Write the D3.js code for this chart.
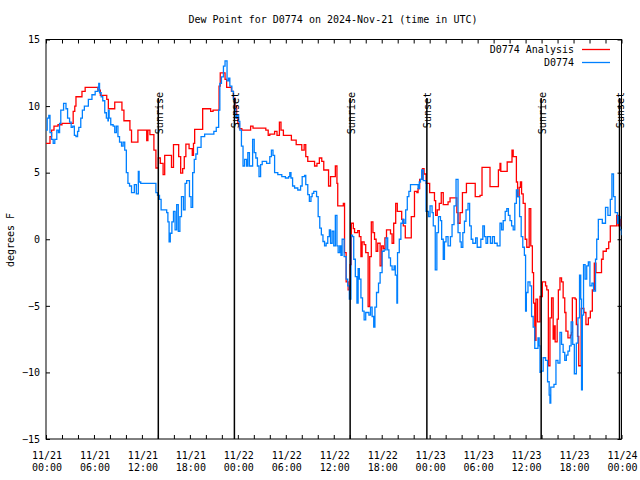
<!DOCTYPE html>
<html>
<head>
<meta charset="utf-8">
<script src="https://cdn.jsdelivr.net/npm/d3@7"></script>
<style>
  html, body { margin: 0; padding: 0; background: #fff; }
  svg text { font-family: "DejaVu Sans Mono", "Liberation Mono", monospace; font-size: 10px; fill: #000; }
</style>
</head>
<body>
<svg id="chart" width="640" height="480"></svg>
<script>
// ---- data (hours after 2024-11-21 00:00 UTC, value in degrees F) ----
const titleText = "Dew Point for D0774 on 2024-Nov-21 (time in UTC)";
const seriesNames = ["D0774 Analysis", "D0774"];
const seriesColors = ["#ff0000", "#0080ff"];
const yTicks = [-15, -10, -5, 0, 5, 10, 15];

const redHours = [0.0,0.5,0.7,1.0,1.5,2.0,3.4,3.6,3.75,4.5,4.9,6.5,6.8,7.6,7.8,8.6,9.5,9.75,10.5,10.7,11.5,12.6,12.75,13.0,13.5,13.75,14.05,14.3,14.65,14.85,15.7,15.95,16.6,16.85,17.1,17.3,17.5,17.9,18.3,18.45,18.6,19.6,20.6,20.9,21.65,21.8,22.4,22.6,23.2,23.45,23.65,23.85,24.0,24.2,24.5,25.6,25.9,27.5,27.8,28.0,28.6,28.9,29.2,29.4,29.7,30.7,31.3,32.0,32.3,32.5,32.75,33.6,33.9,34.2,34.5,34.75,35.35,35.6,36.2,36.4,36.5,37.2,37.35,37.55,37.8,38.05,38.2,38.45,38.6,39.0,39.2,39.4,39.55,39.8,40.0,40.3,40.5,40.7,40.9,41.1,41.3,41.5,41.8,42.0,42.2,42.4,42.6,43.1,43.3,43.5,43.75,43.95,44.5,44.7,44.95,45.7,46.1,46.4,46.55,46.75,47.1,47.3,47.55,48.0,48.6,48.75,48.95,49.2,49.45,49.7,50.3,50.55,51.4,51.55,51.8,52.1,52.6,53.7,54.3,54.55,55.55,56.6,56.8,56.9,57.7,58.3,58.45,58.85,59.0,59.2,59.35,59.5,59.7,59.95,60.15,60.45,60.65,60.85,61.0,61.15,61.3,61.5,61.8,62.1,62.5,62.65,62.85,63.05,63.25,63.45,63.55,63.7,63.95,64.1,64.3,64.5,64.7,64.9,65.05,65.3,65.6,65.75,65.85,66.2,66.35,66.5,66.65,66.95,67.3,67.55,67.85,68.1,68.35,68.6,68.8,69.5,69.7,70.1,70.4,70.6,71.4,71.6,71.9,72.0];
const redValues = [7.2,7.7,8.2,8.5,8.6,8.7,9.6,10.0,10.7,11.1,11.4,11.2,10.8,10.5,9.8,10.3,9.7,8.9,8.2,7.3,8.2,7.4,8.2,7.85,6.7,5.35,6.1,5.7,4.85,6.3,5.4,7.1,6.2,4.97,5.3,6.2,7.15,6.8,6.3,7.2,8.25,9.8,9.6,9.7,11.5,12.5,12.0,11.4,11.1,10.6,10.0,9.1,8.7,8.3,8.2,8.5,8.35,8.2,7.8,7.9,8.1,7.8,8.8,8.2,7.8,7.45,7.1,6.7,7.1,6.2,5.85,5.5,5.7,6.1,5.85,5.2,4.0,4.7,5.5,4.2,2.5,2.7,-1.0,-3.2,-3.8,-1.9,1.2,0.8,0.5,0.65,0.2,-1.3,-0.2,-0.4,-1.0,-5.05,-1.3,1.3,0.5,0.0,-0.9,-0.3,-2.0,-0.5,-0.7,0.1,0.7,0.4,-0.3,1.2,2.7,2.1,1.5,1.0,0.1,1.7,3.6,3.5,3.8,4.5,5.3,4.9,4.2,3.5,2.9,1.8,2.2,2.7,3.5,2.6,2.8,3.1,2.0,1.2,2.0,3.5,4.2,3.2,3.3,5.4,3.95,5.2,5.7,5.1,5.8,6.7,6.2,4.3,3.2,3.9,4.3,3.4,2.7,0.0,-0.6,2.3,-0.5,-2.5,-4.8,-7.6,-4.5,-6.2,-4.3,-3.2,-3.5,-3.8,-9.5,-5.9,-4.4,-7.5,-6.5,-7.7,-6.0,-3.8,-2.9,-3.2,-4.4,-5.5,-6.9,-7.4,-7.2,-7.0,-4.4,-4.5,-6.4,-7.3,-9.5,-5.2,-5.5,-6.4,-5.9,-5.4,-3.8,-1.8,-2.5,-1.5,-0.9,-0.7,-0.2,1.0,1.8,1.0,1.5,1.5];

const blueHours = [0.0,0.15,0.35,0.5,0.7,0.9,1.1,1.35,1.55,1.7,1.85,2.2,2.5,2.7,2.95,3.15,3.35,3.55,3.75,3.95,4.1,4.35,4.55,4.8,5.3,5.75,6.15,6.5,6.6,6.7,6.9,7.1,7.35,7.55,7.75,7.8,7.9,8.1,8.4,8.6,8.8,9.0,9.2,9.45,9.65,9.85,10.05,10.25,10.45,10.7,11.05,11.3,11.55,11.65,11.85,13.75,13.95,14.2,14.4,15.1,15.25,15.4,15.55,15.75,15.95,16.15,16.35,16.55,16.75,16.95,17.2,17.4,17.6,17.95,18.15,18.35,18.55,18.75,18.95,19.4,19.85,21.0,21.3,21.6,21.75,21.95,22.2,22.4,22.65,22.85,23.0,23.25,23.45,23.6,23.75,23.9,24.1,24.25,24.45,24.65,24.85,25.1,25.25,25.45,25.85,26.05,26.25,26.45,26.65,26.85,27.05,27.6,28.0,28.2,28.4,28.6,29.0,29.5,29.95,30.35,30.5,30.65,30.85,31.1,31.5,31.85,32.05,32.35,32.5,32.75,32.95,33.15,33.3,33.5,33.85,34.05,34.25,34.45,34.65,34.85,35.05,35.25,35.45,35.6,35.8,36.0,36.2,36.4,36.55,36.75,36.9,37.05,37.3,37.55,37.75,37.95,38.15,38.35,38.5,38.7,38.9,39.05,39.2,39.4,39.6,39.8,40.0,40.4,40.6,40.8,41.0,41.15,41.35,41.6,41.8,42.05,42.3,42.55,42.75,42.9,43.1,43.3,43.55,43.7,43.9,43.98,44.2,44.4,44.6,44.8,45.0,45.2,45.4,45.6,46.55,46.7,46.85,47.0,47.2,47.55,47.85,48.05,48.3,48.45,48.7,48.9,49.1,49.35,49.5,49.7,49.85,50.05,50.3,50.6,50.8,51.05,51.3,51.55,51.8,51.95,52.15,52.35,52.55,52.8,53.0,53.2,53.4,53.75,53.95,54.4,54.65,54.85,55.05,55.25,55.6,55.85,56.1,56.45,56.8,57.0,57.2,57.45,57.65,57.85,58.05,58.25,58.45,58.65,58.85,59.05,59.25,59.45,59.65,59.85,60.0,60.1,60.3,60.55,60.75,60.95,61.15,61.55,61.7,61.8,61.95,62.2,62.5,62.75,62.95,63.05,63.15,63.55,63.8,64.05,64.3,64.5,64.7,64.9,65.1,65.3,65.5,65.7,65.9,66.1,66.35,66.55,66.75,66.9,67.0,67.1,67.25,67.45,67.65,67.85,68.05,68.3,68.5,68.75,68.9,69.1,69.6,70.0,70.3,70.6,70.8,71.0,71.2,71.5,71.6,71.8,72.0];
const blueValues = [8.2,9.1,9.3,8.0,7.5,7.2,7.5,8.2,8.0,8.7,9.7,10.2,9.8,9.1,8.8,8.4,8.5,7.8,7.7,8.1,8.4,9.1,9.7,10.0,10.5,10.85,11.1,11.4,11.7,11.0,10.7,10.4,9.5,9.1,8.9,9.7,9.1,8.6,8.5,8.0,8.5,7.7,7.3,7.0,7.3,6.7,5.0,4.2,4.0,3.5,4.1,3.4,5.1,4.3,4.2,3.5,3.3,3.0,2.2,2.0,1.3,-0.2,0.45,1.3,2.1,0.7,2.6,0.6,1.7,3.2,2.2,4.2,4.4,3.2,2.4,5.0,6.0,6.4,6.9,7.7,7.9,8.1,8.4,9.7,11.7,12.2,13.0,13.4,11.9,12.1,11.5,11.1,10.5,9.8,9.1,9.3,8.85,8.2,7.0,5.5,6.0,5.5,6.5,5.5,7.5,6.5,6.1,5.5,4.7,5.6,5.85,5.7,6.2,6.7,6.3,5.0,4.85,4.7,4.6,4.7,5.0,4.6,4.0,3.85,3.7,4.0,4.7,4.8,4.1,3.35,2.85,3.2,3.45,3.6,3.2,1.7,0.84,0.33,-0.17,-0.5,-0.3,0.2,0.7,-0.3,0.6,-0.5,1.8,-0.5,-1.0,-0.5,-1.2,0.0,-1.3,-3.0,-3.5,-4.5,0.3,0.2,-1.5,-2.8,-4.8,-2.2,-3.0,-4.4,-5.4,-6.05,-5.5,-5.7,-5.1,-5.8,-6.6,-5.1,-4.0,-3.3,-2.5,-0.9,-0.8,0.1,-0.8,-1.4,-2.0,-2.3,-2.0,-2.7,-4.8,-1.0,0.0,1.2,1.5,1.2,2.2,3.2,3.6,4.1,3.8,4.3,4.5,5.2,4.4,2.1,1.7,2.5,2.0,1.0,-2.3,0.5,1.7,1.4,0.0,-1.5,-0.2,0.2,-0.5,0.2,1.1,2.5,4.5,0.5,-0.2,-0.6,0.5,1.35,2.2,2.7,1.0,0.0,-0.3,0.1,-0.6,0.0,1.0,0.2,-0.3,0.2,-0.3,0.2,-0.3,-0.5,1.2,0.7,1.4,2.1,2.3,1.8,1.4,1.0,0.7,2.7,3.7,3.2,1.7,0.2,-0.6,-1.2,-5.4,-4.0,-3.2,-3.5,-5.8,-6.6,-8.2,-7.4,-8.0,-10.0,-9.9,-8.9,-9.1,-10.7,-11.7,-12.3,-11.1,-10.9,-9.1,-9.3,-7.0,-7.9,-8.5,-9.1,-8.7,-8.4,-8.0,-6.2,-7.9,-10.1,-7.8,-5.9,-2.7,-4.5,-11.3,-5.7,-1.9,-3.0,-2.0,-1.7,-3.5,-3.3,-3.9,-1.5,0.0,1.5,1.2,2.4,1.8,3.0,4.9,3.2,2.0,1.2,1.7,0.7,0.3];

const eventHours = [14.05, 23.57, 38.05, 47.65, 61.95, 71.75];
const eventLabels = ["Sunrise", "Sunset", "Sunrise", "Sunset", "Sunrise", "Sunset"];

// ---- drawing ----
const startMs = Date.UTC(2024, 10, 21, 0, 0);
const toDate = h => new Date(startMs + h * 3600e3);

const svg = d3.select("#chart");
const pL = 46, pR = 621.5, pT = 39.5, pB = 439;

const x = d3.scaleUtc().domain([toDate(0), toDate(72)]).range([pL, pR]);
const y = d3.scaleLinear().domain([-15, 15]).range([pB, pT]);

svg.append("defs").append("clipPath").attr("id", "clip")
  .append("rect").attr("x", pL).attr("y", pT).attr("width", pR - pL).attr("height", pB - pT);

// title
svg.append("text").attr("x", 333).attr("y", 23).attr("text-anchor", "middle").text(titleText);

// y label
svg.append("text").attr("transform", "translate(14,240) rotate(-90)").attr("text-anchor", "middle").text("degrees F");

// axes ticks
const hourTicks = d3.utcHour.every(2).range(toDate(0), toDate(72.01));
const bottomAxis = d3.axisBottom(x).tickValues(hourTicks).tickSize(-4).tickFormat("");
const topAxis = d3.axisTop(x).tickValues(hourTicks).tickSize(-4).tickFormat("");
const leftAxis = d3.axisLeft(y).tickValues(yTicks).tickSize(-4).tickFormat(d3.format("d"));
const rightAxis = d3.axisRight(y).tickValues(yTicks).tickSize(-4).tickFormat("");

function styleAxis(g) {
  g.select(".domain").remove();
  g.selectAll("line").attr("stroke", "#000");
  g.selectAll("text").style("font-family", "DejaVu Sans Mono").style("font-size", "10px").attr("fill", "#000");
}
svg.append("g").attr("transform", `translate(0,${pB})`).call(bottomAxis).call(styleAxis);
svg.append("g").attr("transform", `translate(0,${pT})`).call(topAxis).call(styleAxis);
const gl = svg.append("g").attr("transform", `translate(${pL},0)`).call(leftAxis).call(styleAxis);
gl.selectAll("text").attr("x", -6);
svg.append("g").attr("transform", `translate(${pR},0)`).call(rightAxis).call(styleAxis);

// x labels (every 6 h, two lines)
const labelTicks = d3.utcHour.every(6).range(toDate(0), toDate(72.01));
const fmtDate = d3.utcFormat("%m/%d"), fmtTime = d3.utcFormat("%H:%M");
const xl = svg.append("g");
labelTicks.forEach(t => {
  const tx = x(t) + 1;
  xl.append("text").attr("x", tx).attr("y", 459).attr("text-anchor", "middle").text(fmtDate(t));
  xl.append("text").attr("x", tx).attr("y", 471).attr("text-anchor", "middle").text(fmtTime(t));
});

// border
svg.append("rect").attr("x", pL).attr("y", pT).attr("width", pR - pL).attr("height", pB - pT)
  .attr("fill", "none").attr("stroke", "#000").attr("stroke-width", 1);

// series
const line = d3.line().curve(d3.curveStepAfter).x(d => x(d[0])).y(d => y(d[1]));
const redData = redHours.map((h, i) => [toDate(h), redValues[i]]);
const blueData = blueHours.map((h, i) => [toDate(h), blueValues[i]]);
const plot = svg.append("g").attr("clip-path", "url(#clip)");
plot.append("path").datum(redData).attr("d", line).attr("fill", "none").attr("stroke", seriesColors[0]).attr("stroke-width", 1.3);
plot.append("path").datum(blueData).attr("d", line).attr("fill", "none").attr("stroke", seriesColors[1]).attr("stroke-width", 1.3);

// sunrise / sunset markers
eventHours.forEach((h, i) => {
  const ex = x(toDate(h));
  svg.append("line").attr("x1", ex).attr("x2", ex).attr("y1", 98).attr("y2", pB)
    .attr("stroke", "#000").attr("stroke-width", 1.5);
  svg.append("text").attr("transform", `translate(${ex + 4.5},92) rotate(-90)`)
    .attr("text-anchor", "end").text(eventLabels[i]);
});

// legend
const legY = [49.5, 62.5];
seriesNames.forEach((n, i) => {
  svg.append("text").attr("x", 574).attr("y", legY[i] + 3.5).attr("text-anchor", "end").text(n);
  svg.append("line").attr("x1", 582).attr("x2", 610).attr("y1", legY[i]).attr("y2", legY[i])
    .attr("stroke", seriesColors[i]).attr("stroke-width", 1.3);
});
</script>
</body>
</html>
